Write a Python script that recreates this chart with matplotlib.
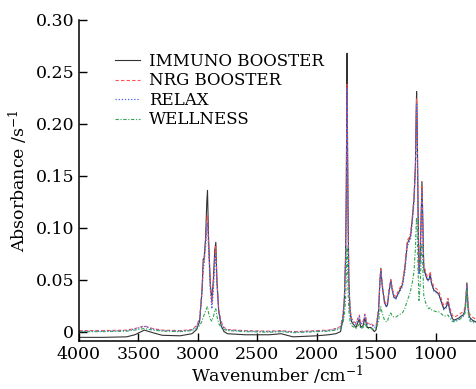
import matplotlib
matplotlib.use("Agg")
import matplotlib.pyplot as plt

# wavenumber grid (cm^-1)
wavenumber = [4000, 3800, 3600, 3530, 3450, 3380, 3300, 3150, 3050, 3010,
              2985, 2965, 2955, 2948, 2935, 2925, 2919, 2910, 2895, 2882,
              2870, 2858, 2849, 2840, 2825, 2805, 2780, 2750, 2600, 2400,
              2300, 2200, 2100, 2000, 1900, 1840, 1800, 1780, 1768, 1758,
              1752, 1748, 1745, 1742, 1737, 1730, 1720, 1708, 1698, 1670,
              1650, 1642, 1630, 1610, 1595, 1575, 1544, 1515, 1500, 1480,
              1468, 1461, 1450, 1430, 1415, 1405, 1390, 1377, 1365, 1350,
              1335, 1310, 1280, 1260, 1238, 1225, 1210, 1195, 1182, 1170,
              1163, 1160, 1155, 1148, 1140, 1130, 1122, 1115, 1110, 1100,
              1085, 1070, 1057, 1045, 1035, 1015, 990, 973, 950, 931,
              910, 896, 880, 860, 848, 825, 806, 785, 770, 760,
              752, 745, 737, 728, 718, 708, 690, 663]

immuno = [-0.0055, -0.0055, -0.005, -0.003, 0.0015, -0.001, -0.0035, -0.004, -0.002, 0.002,
          0.010, 0.040, 0.070, 0.070, 0.090, 0.125, 0.136, 0.090, 0.045, 0.030,
          0.050, 0.078, 0.086, 0.050, 0.020, 0.006, 0.000, -0.002, -0.003, -0.003,
          -0.002, -0.005, -0.0045, -0.004, -0.003, -0.002, 0.000, 0.012, 0.030, 0.070,
          0.130, 0.210, 0.268, 0.200, 0.120, 0.050, 0.020, 0.010, 0.008, 0.004,
          0.010, 0.012, 0.004, 0.006, 0.013, 0.004, 0.004, 0.000, 0.002, 0.020,
          0.050, 0.061, 0.045, 0.028, 0.024, 0.026, 0.040, 0.050, 0.040, 0.033,
          0.032, 0.038, 0.045, 0.060, 0.085, 0.088, 0.093, 0.110, 0.128, 0.160,
          0.215, 0.231, 0.200, 0.120, 0.056, 0.070, 0.110, 0.1445, 0.120, 0.062,
          0.055, 0.050, 0.050, 0.055, 0.047, 0.040, 0.038, 0.036, 0.028, 0.022,
          0.024, 0.029, 0.020, 0.013, 0.011, 0.012, 0.013, 0.015, 0.016, 0.018,
          0.022, 0.032, 0.047, 0.025, 0.015, 0.013, 0.011, 0.0095]

nrg = [0.001, 0.001, 0.0015, 0.003, 0.0055, 0.003, 0.0015, 0.001, 0.002, 0.006,
       0.013, 0.040, 0.062, 0.068, 0.085, 0.105, 0.112, 0.085, 0.045, 0.028,
       0.045, 0.070, 0.082, 0.050, 0.022, 0.010, 0.004, 0.002, 0.001, 0.0005,
       0.001, 0.000, 0.0005, 0.001, 0.0015, 0.003, 0.005, 0.015, 0.032, 0.068,
       0.120, 0.190, 0.238, 0.180, 0.110, 0.048, 0.022, 0.013, 0.011, 0.008,
       0.014, 0.016, 0.008, 0.010, 0.017, 0.008, 0.008, 0.005, 0.006, 0.022,
       0.050, 0.060, 0.047, 0.030, 0.026, 0.028, 0.042, 0.050, 0.042, 0.035,
       0.034, 0.040, 0.047, 0.062, 0.088, 0.090, 0.095, 0.112, 0.130, 0.158,
       0.210, 0.224, 0.195, 0.115, 0.060, 0.075, 0.110, 0.140, 0.115, 0.065,
       0.058, 0.053, 0.053, 0.058, 0.050, 0.043, 0.041, 0.039, 0.031, 0.025,
       0.027, 0.032, 0.023, 0.016, 0.014, 0.015, 0.016, 0.018, 0.019, 0.021,
       0.025, 0.034, 0.046, 0.027, 0.018, 0.016, 0.014, 0.012]

relax = [0.0005, 0.0005, 0.001, 0.0025, 0.005, 0.0025, 0.001, 0.0005, 0.0015, 0.005,
         0.012, 0.038, 0.060, 0.065, 0.082, 0.099, 0.105, 0.080, 0.040, 0.022,
         0.040, 0.065, 0.075, 0.046, 0.020, 0.009, 0.003, 0.0015, 0.0005, 0.000,
         0.0005, -0.0005, 0.000, 0.0005, 0.001, 0.0025, 0.0045, 0.014, 0.031, 0.066,
         0.118, 0.186, 0.235, 0.178, 0.108, 0.046, 0.021, 0.012, 0.010, 0.007,
         0.013, 0.015, 0.007, 0.009, 0.016, 0.007, 0.007, 0.004, 0.005, 0.020,
         0.048, 0.058, 0.045, 0.028, 0.024, 0.026, 0.040, 0.048, 0.040, 0.033,
         0.031, 0.037, 0.043, 0.057, 0.082, 0.086, 0.090, 0.107, 0.125, 0.155,
         0.205, 0.220, 0.190, 0.110, 0.055, 0.068, 0.105, 0.135, 0.110, 0.060,
         0.054, 0.049, 0.049, 0.054, 0.046, 0.039, 0.037, 0.035, 0.027, 0.021,
         0.023, 0.028, 0.019, 0.012, 0.010, 0.011, 0.012, 0.014, 0.015, 0.017,
         0.021, 0.031, 0.045, 0.024, 0.014, 0.012, 0.010, 0.009]

wellness = [0.000, 0.000, 0.0005, 0.0015, 0.003, 0.0015, 0.0005, 0.000, 0.001, 0.003,
            0.006, 0.010, 0.014, 0.016, 0.020, 0.023, 0.024, 0.018, 0.012, 0.010,
            0.014, 0.020, 0.022, 0.015, 0.008, 0.004, 0.002, 0.001, 0.000, -0.0005,
            0.000, -0.001, -0.0005, 0.000, 0.0005, 0.0015, 0.003, 0.008, 0.015, 0.030,
            0.050, 0.070, 0.082, 0.065, 0.040, 0.020, 0.010, 0.006, 0.005, 0.003,
            0.006, 0.007, 0.003, 0.004, 0.008, 0.003, 0.003, 0.002, 0.003, 0.010,
            0.020, 0.024, 0.018, 0.011, 0.0095, 0.010, 0.016, 0.018, 0.015, 0.014,
            0.014, 0.016, 0.018, 0.022, 0.030, 0.034, 0.040, 0.048, 0.058, 0.080,
            0.105, 0.110, 0.100, 0.060, 0.030, 0.045, 0.070, 0.085, 0.070, 0.035,
            0.028, 0.024, 0.022, 0.023, 0.021, 0.020, 0.019, 0.019, 0.017, 0.015,
            0.015, 0.016, 0.013, 0.010, 0.0095, 0.010, 0.011, 0.013, 0.014, 0.016,
            0.018, 0.028, 0.040, 0.020, 0.012, 0.010, 0.009, 0.008]

labels = ["IMMUNO BOOSTER", "NRG BOOSTER", "RELAX", "WELLNESS"]
xticks = [4000, 3500, 3000, 2500, 2000, 1500, 1000]
yticks = [0, 0.05, 0.10, 0.15, 0.20, 0.25, 0.30]
ytick_labels = ["0", "0.05", "0.10", "0.15", "0.20", "0.25", "0.30"]

plt.rcParams['font.family'] = ['DejaVu Serif']
plt.rcParams['mathtext.fontset'] = 'dejavuserif'

fig = plt.figure(figsize=(4.77, 3.89), dpi=100)
ax = fig.add_axes([0.1656, 0.1234, 0.8324, 0.8252])

ax.plot(wavenumber, immuno, color='#333333', lw=0.8, ls='-', label=labels[0])
ax.plot(wavenumber, nrg, color='#ff5050', lw=0.8, ls=(0, (3, 2)), label=labels[1])
ax.plot(wavenumber, relax, color='#3f63f0', lw=0.9, ls=(0, (1, 1.5)), label=labels[2])
ax.plot(wavenumber, wellness, color='#2fa552', lw=0.8, ls=(0, (3, 1.5, 1, 1.5)), label=labels[3])

ax.set_xlim(4000, 660)
ax.set_ylim(-0.009, 0.30)
ax.set_xticks(xticks)
ax.set_yticks(yticks)
ax.set_yticklabels(ytick_labels)
ax.tick_params(direction='in', length=6, width=1, labelsize=12.5)
for s in ['top', 'right']:
    ax.spines[s].set_visible(False)
for s in ['left', 'bottom']:
    ax.spines[s].set_linewidth(1.1)

ax.set_xlabel("Wavenumber /cm$^{-1}$", fontsize=12.5, labelpad=1)
ax.set_ylabel("Absorbance /s$^{-1}$", fontsize=12.5, labelpad=4)

ax.legend(loc='upper left', bbox_to_anchor=(0.075, 0.918), frameon=False,
          fontsize=12, handlelength=1.5, handletextpad=0.5, labelspacing=0.15,
          borderaxespad=0)

fig.savefig("out.png", dpi=100)
